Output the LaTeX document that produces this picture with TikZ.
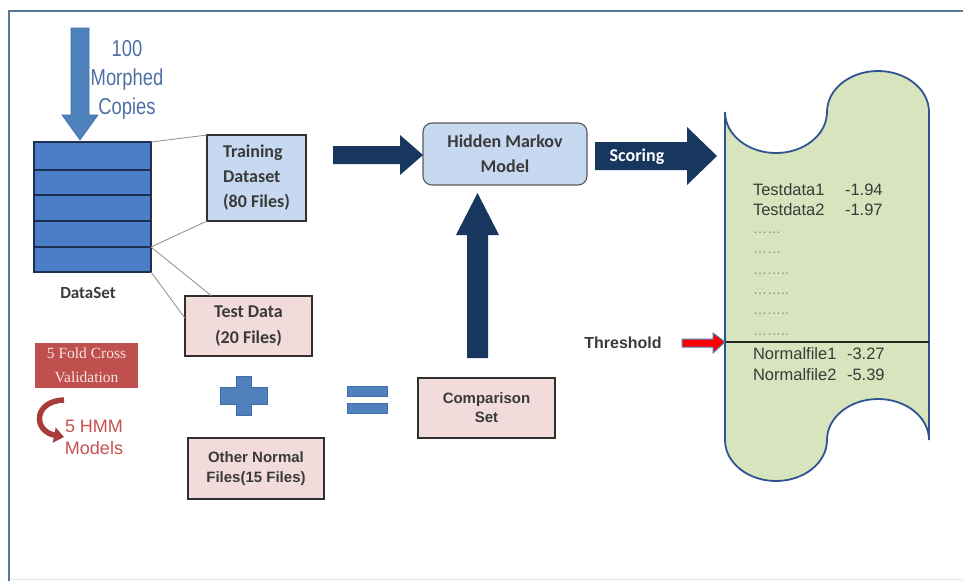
\documentclass[tikz,border=0pt]{standalone}
\usepackage{fontspec}
\setmainfont{Liberation Sans}
\newfontfamily\calibf{Carlito}
\newfontfamily\narrowf[FakeStretch=0.8]{Liberation Sans}
\newfontfamily\garamf{Liberation Serif}
\usetikzlibrary{arrows.meta,calc}

\definecolor{cFrame}{HTML}{5A7896}
\definecolor{cFrameLight}{HTML}{DDE5EE}
\definecolor{cStack}{HTML}{4A7EC7}
\definecolor{cStackLine}{HTML}{1F2F4F}
\definecolor{cArrowBlue}{HTML}{4F81BD}
\definecolor{cArrowEdge}{HTML}{3F6FAA}
\definecolor{cMorph}{HTML}{4E6FA3}
\definecolor{cText}{HTML}{3A3A3A}
\definecolor{cBorder}{HTML}{303030}
\definecolor{cLightBlue}{HTML}{C6D9F1}
\definecolor{cPink}{HTML}{F2DCDB}
\definecolor{cRed}{HTML}{C0504D}
\definecolor{cRedText}{HTML}{F6E4E3}
\definecolor{cRedSoft}{HTML}{C85050}
\definecolor{cMaroon}{HTML}{A83C3A}
\definecolor{cNavy}{HTML}{17375E}
\definecolor{cScroll}{HTML}{D7E4BD}
\definecolor{cScrollEdge}{HTML}{2E5590}
\definecolor{cLink}{HTML}{8C8C8C}
\definecolor{cDots}{HTML}{8A8A8A}

\begin{document}
\begin{tikzpicture}[x=1pt,y=-1pt,
  every node/.style={inner sep=0pt, outer sep=0pt},
  box/.style={draw=cBorder, line width=1.1pt, text=cText, align=center},
  calibold/.style={font=\calibf\bfseries\fontsize{18}{25}\selectfont},
  arialbold/.style={font=\bfseries\fontsize{15}{20}\selectfont},
  navyarrow/.style={fill=cNavy},
  link/.style={draw=cLink, line width=0.8pt},
  scrolltext/.style={anchor=west, text=cText, font=\fontsize{16.5}{19}\selectfont},
  dotstext/.style={anchor=west, text=cDots, font=\fontsize{14}{15}\selectfont}]
\useasboundingbox (0,0) rectangle (963,581);

% outer frame
\draw[cFrame, line width=2pt] (9,581) -- (9,11) -- (963,11);
\draw[cFrameLight, line width=1pt] (10,579) -- (963,579);

% data set stack
\node[draw=cStackLine, fill=cStack, line width=1.3pt,
      minimum width=117pt, minimum height=130pt] (ds) at (92.5,207) {};
\foreach \yy in {170,195,221,247}
  \draw[cStackLine, line width=1.3pt] (34,\yy) -- (151,\yy);
\coordinate (r4) at (151,247);
\node[font=\calibf\bfseries\fontsize{17}{20}\selectfont, text=cText] (dslabel) at (88,293) {DataSet};

% incoming morphed copies
\filldraw[fill=cArrowBlue, draw=cArrowEdge, line width=0.6pt]
  (71,28) -- (89,28) -- (89,115) -- (98,115) -- (80,140) -- (62,115) -- (71,115) -- cycle;
\node[text=cMorph, font=\narrowf\fontsize{23}{29}\selectfont, align=center] (morph) at (127,80) {100\\Morphed\\Copies};

% split boxes
\node[box, calibold, fill=cLightBlue, minimum width=99pt, minimum height=86pt, align=left] (train) at (256.5,178) {Training\\Dataset\\(80 Files)};
\node[box, font=\calibf\bfseries\fontsize{18}{26}\selectfont, fill=cPink, minimum width=127pt, minimum height=60pt] (test) at (248.5,326) {Test Data\\(20 Files)};
\node[box, arialbold, fill=cPink, minimum width=136pt, minimum height=61pt] (other) at (256,468.5) {Other Normal\\Files(15 Files)};
\node[box, font=\bfseries\fontsize{15}{19}\selectfont, fill=cPink, minimum width=137pt, minimum height=60pt] (comp) at (486.5,408) {Comparison\\Set};

% links from the stack
\draw[link] (ds.north east) -- (train.north west);
\draw[link] (r4) -- (train.south west);
\draw[link] (r4) -- ($(test.north west)!0.21!(test.north east)$);
\draw[link] (ds.south east) -- ($(test.north west)!0.37!(test.south west)$);

% cross validation note
\node[fill=cRed, text=cRedText, minimum width=103pt, minimum height=45pt, align=center,
      font=\garamf\fontsize{15.5}{24}\selectfont] (cv) at (86.5,365.5) {5 Fold Cross\\Validation};
\draw[cMaroon, line width=5.5pt, -{Triangle[length=10pt,width=15pt]}]
  (64,400) .. controls (33,401) and (33,431) .. (64,437);
\node[text=cRedSoft, font=\fontsize{18}{22}\selectfont, align=center] (hmmn) at (94,437) {5 HMM\\Models};

% plus and equals
\filldraw[fill=cArrowBlue, draw=cArrowEdge, line width=0.6pt]
  (236.5,376.5) -- (251.5,376.5) -- (251.5,387.5) -- (267.5,387.5) -- (267.5,404.5)
  -- (251.5,404.5) -- (251.5,415.5) -- (236.5,415.5) -- (236.5,404.5) -- (220.5,404.5)
  -- (220.5,387.5) -- (236.5,387.5) -- cycle;
\filldraw[fill=cArrowBlue, draw=cArrowEdge, line width=0.6pt] (347,386) rectangle (387,396);
\filldraw[fill=cArrowBlue, draw=cArrowEdge, line width=0.6pt] (347,403) rectangle (387,413);

% hidden markov model
\node[box, calibold, draw=cBorder!80, fill=cLightBlue, rounded corners=9pt,
      minimum width=164pt, minimum height=62pt] (hmm) at (505,154) {Hidden Markov\\Model};

% block arrows
\fill[navyarrow] (333,146) -- (400,146) -- (400,135) -- (423,155) -- (400,175) -- (400,164) -- (333,164) -- cycle;
\fill[navyarrow] (467,358) -- (467,235) -- (456,235) -- (477.5,193) -- (499,235) -- (488,235) -- (488,358) -- cycle;
\fill[navyarrow] (595,142) -- (687,142) -- (687,127) -- (717,156) -- (687,185) -- (687,170) -- (595,170) -- cycle;
\node[text=white, calibold] (scoring) at (637,157) {Scoring};

% score list (a punched-tape outline)
\filldraw[fill=cScroll, draw=cScrollEdge, line width=1.8pt]
  (725,112) arc[start angle=180, end angle=0, x radius=51, y radius=41]
  arc[start angle=180, end angle=360, x radius=51, y radius=41]
  -- (929,440)
  arc[start angle=0, end angle=-180, x radius=51, y radius=41]
  arc[start angle=0, end angle=180, x radius=51, y radius=41]
  -- cycle;
\coordinate (thl) at (725,342);
\coordinate (thr) at (929,342);
\draw[black!85, line width=1.5pt] (thl) -- (thr);

\node[scrolltext] (t1) at (753,190) {Testdata1};
\node[scrolltext] (v1) at (845,190) {-1.94};
\node[scrolltext] (t2) at (753,210) {Testdata2};
\node[scrolltext] (v2) at (845,210) {-1.97};
\node[dotstext] (d1) at (753,233) {……};
\node[dotstext] (d2) at (753,253) {……};
\node[dotstext] (d3) at (753,274) {……..};
\node[dotstext] (d4) at (753,294) {……..};
\node[dotstext] (d5) at (753,314) {……..};
\node[dotstext] (d6) at (753,335) {……..};
\node[scrolltext] (n1) at (753,354) {Normalfile1};
\node[scrolltext] (w1) at (847,354) {-3.27};
\node[scrolltext] (n2) at (753,375) {Normalfile2};
\node[scrolltext] (w2) at (847,375) {-5.39};

% threshold marker
\node[font=\bfseries\fontsize{16}{19}\selectfont, text=cText] (thlabel) at (623,343) {Threshold};
\filldraw[fill=red, draw=cArrowBlue, line width=1pt]
  (682,339) -- (713,339) -- (713,333) -- (thl) -- (713,353) -- (713,347) -- (682,347) -- cycle;
\end{tikzpicture}
\end{document}
